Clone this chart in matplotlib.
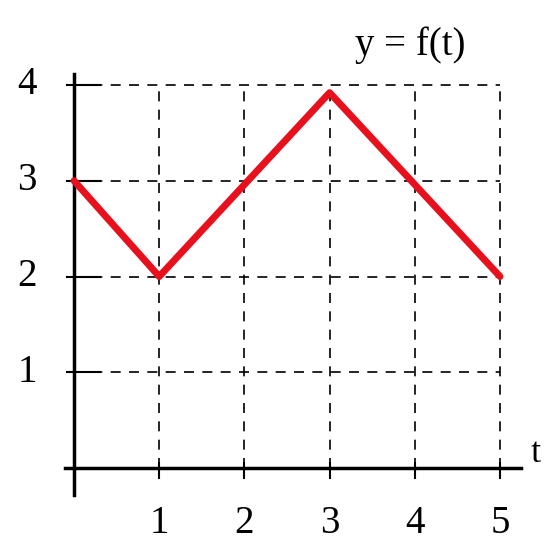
import matplotlib
matplotlib.use('Agg')
import matplotlib.pyplot as plt

# values
t_vals = [0, 1, 3, 5]
y_vals = [3, 2, 3.92, 2]
x_ticks = [1, 2, 3, 4, 5]
y_ticks = [1, 2, 3, 4]

plt.rcParams['font.family'] = ['Liberation Serif']

fig = plt.figure(figsize=(5.48, 5.5), dpi=100)
ax = fig.add_axes([74/548, 82/550, 426/548, 383/550])
ax.set_xlim(0, 5)
ax.set_ylim(0, 4)
ax.axis('off')

# dashed grid
for x in x_ticks:
    ax.plot([x, x], [0, 4], 'k--', lw=1.2, dashes=(6, 5), clip_on=False)
for y in y_ticks:
    ax.plot([0, 5], [y, y], 'k--', lw=1.2, dashes=(6, 5), clip_on=False)

# axes
ax.plot([0, 0], [-0.28, 4.12], 'k-', lw=2.5, clip_on=False)
ax.plot([-0.1, 5.25], [0, 0], 'k-', lw=2.5, clip_on=False)
for y in y_ticks:
    ax.plot([-0.08, 0.3], [y, y], 'k-', lw=1.5, clip_on=False)
for x in x_ticks:
    ax.plot([x, x], [-0.1, 0.05], 'k-', lw=1.5, clip_on=False)

# the function
ax.plot(t_vals, y_vals, color='#e8101c', lw=5, solid_capstyle='round', clip_on=False)

for y in y_ticks:
    ax.text(-0.55, y, str(y), fontsize=28, ha='center', va='center')
for x in x_ticks:
    ax.text(x, -0.58, str(x), fontsize=28, ha='center', va='center')
ax.text(5.42, 0.15, 't', fontsize=26, ha='center', va='center')
ax.text(3.95, 4.42, 'y = f(t)', fontsize=28, ha='center', va='center')

plt.savefig('out.png', dpi=100)
